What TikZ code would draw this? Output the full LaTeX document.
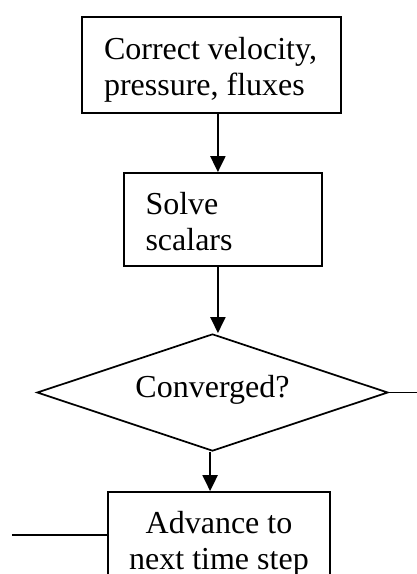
\documentclass[tikz,border=0pt]{standalone}
\usepackage{fontspec}
\setmainfont{Liberation Serif}
\usetikzlibrary{arrows.meta,shapes.geometric}

\tikzset{
	stepbox/.style={draw, line width=0.65pt, inner ysep=0pt},
	steptext/.style={inner sep=0pt, font=\fontsize{12}{13.5}\selectfont},
	flow/.style={line width=0.85pt, -{Triangle[width=5.6pt,length=6pt]}},
	link/.style={line width=0.65pt}
}

\begin{document}
\begin{tikzpicture}[x=0.375pt, y=-0.375pt]
	\useasboundingbox (0,0) rectangle (417,574);
	\clip (0,0) rectangle (417,574);

	\node[stepbox, minimum width=97.1pt, minimum height=36pt] (correct) at (211.5,65) {};
	\node[steptext, align=left] (correct-t) at (210.5,70) {Correct velocity,\\pressure, fluxes};
	\node[stepbox, minimum width=74.25pt, minimum height=34.9pt] (solve) at (223,219.5) {};
	\node[steptext, align=left, anchor=west] (solve-t) at (145,222) {Solve\\scalars};
	\node[draw, diamond, line width=0.65pt, aspect=3, inner sep=0pt, minimum width=131.6pt, minimum height=43.9pt] (conv) at (212.5,392.5) {};
	\node[steptext] (conv-t) at (212.5,390) {Converged?};
	\node[stepbox, minimum width=83.25pt, minimum height=36pt] (advance) at (219,540) {};
	\node[steptext, align=center] (advance-t) at (219,543.5) {Advance to\\next time step};

	\coordinate (exitR) at (417,392.5);
	\coordinate (exitL) at (12,535);

	\draw[flow] ([xshift=2.4pt]correct.south) -- ([xshift=2.4pt]correct.south |- solve.north);
	\draw[flow] ([xshift=-1.9pt]solve.south) -- ([xshift=-1.9pt]solve.south |- conv.north);
	\draw[flow] ([xshift=-0.9pt]conv.south) -- ([xshift=-0.9pt]conv.south |- advance.north);
	\draw[link] (conv.east) -- (exitR);
	\draw[link] (exitL) -- (exitL -| advance.west);
\end{tikzpicture}
\end{document}
